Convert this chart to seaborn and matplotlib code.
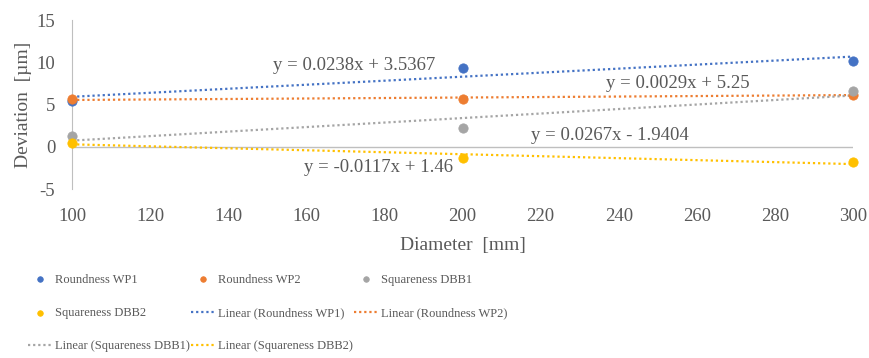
import numpy as np
import pandas as pd
import seaborn as sns
import matplotlib.pyplot as plt

# Data
diameter = [100, 200, 300]
roundness_wp1 = [5.4, 9.33, 10.16]
roundness_wp2 = [5.6, 5.71, 6.18]
squareness_dbb1 = [1.3, 2.26, 6.64]
squareness_dbb2 = [0.5, -1.3, -1.84]

series_names = ['Roundness WP1', 'Roundness WP2', 'Squareness DBB1', 'Squareness DBB2']
series_values = [roundness_wp1, roundness_wp2, squareness_dbb1, squareness_dbb2]
colors = ['#4472C4', '#ED7D31', '#A5A5A5', '#FFC000']
equations = ['y = 0.0238x + 3.5367', 'y = 0.0029x + 5.25',
             'y = 0.0267x - 1.9404', 'y = -0.0117x + 1.46']
eq_pos = [(151.5, 9.6), (236.7, 7.5), (217.5, 1.3), (159.5, -2.5)]

sns.set_style('white')
plt.rcParams['font.family'] = ['Liberation Serif', 'DejaVu Serif']
plt.rcParams['axes.unicode_minus'] = False
text_color = '#595959'

fig = plt.figure(figsize=(8.7, 3.58), dpi=100)
ax = fig.add_axes([0.0828, 0.472, 0.8977, 0.472])

# Trend lines first so points sit on top
for name, vals, c in zip(series_names, series_values, colors):
    slope, icpt = np.polyfit(diameter, vals, 1)
    xs = np.array([100, 300])
    sns.lineplot(x=xs, y=slope * xs + icpt, ax=ax, color=c, lw=1.6,
                 linestyle=(0, (1, 1.3)), label=f'Linear ({name})', zorder=2)

for name, vals, c in zip(series_names, series_values, colors):
    sns.scatterplot(x=diameter, y=vals, ax=ax, color=c, s=45, edgecolor=c,
                    label=name, zorder=3, clip_on=False)

for eq, (ex, ey) in zip(equations, eq_pos):
    ax.text(ex, ey, eq, fontsize=13.5, color=text_color, va='center', ha='left')

ax.set_xlim(100, 300)
ax.set_ylim(-5, 15)
ax.set_xticks(range(100, 301, 20))
ax.set_yticks(range(-5, 16, 5))
ax.axhline(0, color='#BFBFBF', lw=1, zorder=1)
for s in ['top', 'right', 'bottom']:
    ax.spines[s].set_visible(False)
ax.spines['left'].set_color('#BFBFBF')
ax.tick_params(length=0, labelsize=13.5, labelcolor=text_color)
ax.tick_params(axis='x', pad=14)
ax.tick_params(axis='y', pad=12)
ax.set_xlabel('Diameter  [mm]', fontsize=14, color=text_color, labelpad=8)
ax.set_ylabel('Deviation  [µm]', fontsize=14, color=text_color, labelpad=3)

handles, labels = ax.get_legend_handles_labels()
# points first, then trends, filled row by row
handles = handles[4:] + handles[:4]
labels = labels[4:] + labels[:4]
order = [0, 3, 6, 1, 4, 7, 2, 5]
ax.legend([handles[i] for i in order], [labels[i] for i in order],
          ncol=3, loc='upper left', bbox_to_anchor=(-0.071, -0.435),
          frameon=False, fontsize=9, labelcolor=text_color, markerscale=0.6,
          handlelength=1.9, columnspacing=0.1, labelspacing=1.7,
          handletextpad=0.25)

fig.savefig('out.png', dpi=100)
